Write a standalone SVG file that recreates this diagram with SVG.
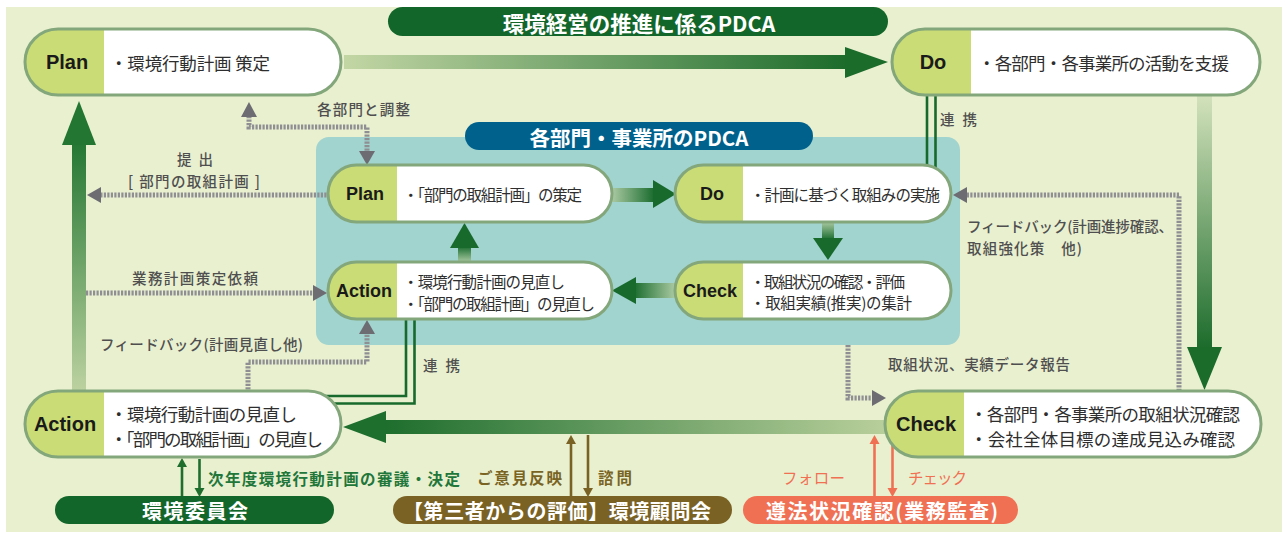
<svg xmlns="http://www.w3.org/2000/svg" width="1288" height="534" viewBox="0 0 1288 534">
<style>
.jp{font-family:"Noto Sans CJK JP","Noto Sans",sans-serif}
.lbl{font-family:"Liberation Sans","Noto Sans",sans-serif;font-weight:bold;fill:#1a1a1a;text-anchor:middle;dominant-baseline:central}
.body{font-family:"Noto Sans CJK JP",sans-serif;fill:#2e2e2e;dominant-baseline:central}
.gl{font-family:"Noto Sans CJK JP",sans-serif;fill:#4f4f4f;font-weight:500;font-size:14.5px;dominant-baseline:central}
.ttl{font-family:"Noto Sans CJK JP",sans-serif;font-weight:bold;fill:#fff;text-anchor:middle;dominant-baseline:central}
.pill{fill:#fff;stroke:none}
.edge{fill:none;stroke:#83a77b;stroke-width:3}
.sec{fill:#cadc75}
.dot{fill:none;stroke:#8e8e93;stroke-width:5;stroke-dasharray:2.2 1.3}
.gh{fill:#6c6c72}
.dk{fill:#176a2c}
.link{fill:none;stroke:#176a2c;stroke-width:2.6}
</style>
<defs>
<linearGradient id="gTop" gradientUnits="userSpaceOnUse" x1="345" y1="0" x2="850" y2="0"><stop offset="0" stop-color="#c2d6a4"/><stop offset="1" stop-color="#1b6b2b"/></linearGradient>
<linearGradient id="gLeft" gradientUnits="userSpaceOnUse" x1="0" y1="391" x2="0" y2="140"><stop offset="0" stop-color="#bcd2a0"/><stop offset="1" stop-color="#237632"/></linearGradient>
<linearGradient id="gRight" gradientUnits="userSpaceOnUse" x1="0" y1="96" x2="0" y2="350"><stop offset="0" stop-color="#d3e2bb"/><stop offset="1" stop-color="#1b6b2b"/></linearGradient>
<linearGradient id="gBot" gradientUnits="userSpaceOnUse" x1="885" y1="0" x2="385" y2="0"><stop offset="0" stop-color="#b8cf9b"/><stop offset="1" stop-color="#1e6e2e"/></linearGradient>
<linearGradient id="gIR" gradientUnits="userSpaceOnUse" x1="612" y1="0" x2="655" y2="0"><stop offset="0" stop-color="#a9c9a2"/><stop offset="1" stop-color="#176a2c"/></linearGradient>
<linearGradient id="gID" gradientUnits="userSpaceOnUse" x1="0" y1="222" x2="0" y2="240"><stop offset="0" stop-color="#a9c9a2"/><stop offset="1" stop-color="#176a2c"/></linearGradient>
<linearGradient id="gIL" gradientUnits="userSpaceOnUse" x1="675" y1="0" x2="633" y2="0"><stop offset="0" stop-color="#a9c9a2"/><stop offset="1" stop-color="#176a2c"/></linearGradient>
<linearGradient id="gIU" gradientUnits="userSpaceOnUse" x1="0" y1="262" x2="0" y2="246"><stop offset="0" stop-color="#a9c9a2"/><stop offset="1" stop-color="#176a2c"/></linearGradient>
</defs>

<rect x="6" y="7" width="1276" height="525" fill="#e9f0cf"/>

<g id="panel-inner">
<rect x="316" y="137" width="644" height="208" rx="13" fill="#a1d3cf"/>
</g>

<g id="title-main">
<rect x="388" y="7" width="500" height="29" rx="14.5" fill="#13662a"/>
<text class="ttl" x="639" y="22" font-size="21.5">環境経営の推進に係るPDCA</text>
</g>
<g id="title-inner">
<rect x="465" y="122" width="348" height="28" rx="14" fill="#00628c"/>
<text class="ttl" x="639" y="136.5" font-size="20.5">各部門・事業所のPDCA</text>
</g>

<g id="connectors">
<rect x="344" y="55" width="503" height="14" fill="url(#gTop)"/>
<polygon points="845,47 888,62 845,78" fill="#1b6b2b"/>
<rect x="72" y="143" width="14" height="250" fill="url(#gLeft)"/>
<polygon points="62,145 79,101 96,145" fill="#237632"/>
<rect x="1197" y="95" width="15" height="254" fill="url(#gRight)"/>
<polygon points="1187,347 1204.5,390 1222,347" fill="#1b6b2b"/>
<rect x="383" y="420" width="504" height="14" fill="url(#gBot)"/>
<polygon points="386,411 343,427 386,443" fill="#1e6e2e"/>
<rect x="610" y="188" width="45" height="14" fill="url(#gIR)"/>
<polygon points="653,180 676,194 653,208" class="dk"/>
<rect x="822" y="220" width="12" height="20" fill="url(#gID)"/>
<polygon points="813,238 828,260 843,238" class="dk"/>
<rect x="633" y="283" width="44" height="15" fill="url(#gIL)"/>
<polygon points="636,277 612,290.5 636,304" class="dk"/>
<rect x="458" y="246" width="13" height="18" fill="url(#gIU)"/>
<polygon points="450,248 464.5,223 479,248" class="dk"/>
<path class="link" d="M927,92 V168 M935.5,92 V168"/>
<path class="link" d="M406,316 V396 H318 M414.5,316 V403.5 H318"/>
<path class="dot" d="M249,116 V127 H367 V152"/>
<polygon class="gh" points="241,117 249,102 257,117"/>
<polygon class="gh" points="359,151 367,165 375,151"/>
<path class="dot" d="M330,195 H100"/>
<polygon class="gh" points="101,187 87,195 101,203"/>
<path class="dot" d="M86,293 H314"/>
<polygon class="gh" points="313,285 327,293 313,301"/>
<path class="dot" d="M248,393 V362 H367 V333"/>
<polygon class="gh" points="359,334 367,320 375,334"/>
<path class="dot" d="M1179,391 V195 H966"/>
<polygon class="gh" points="967,187 953,195 967,203"/>
<path class="dot" d="M848,345 V398 H873"/>
<polygon class="gh" points="872,390 886,398 872,406"/>
<g stroke-width="2.6" fill="none">
<path d="M182,496 V466" stroke="#1f6e2e"/>
<path d="M199.5,459 V489" stroke="#1f6e2e"/>
<path d="M571,496 V442" stroke="#7a6224"/>
<path d="M588,435 V489" stroke="#7a6224"/>
<path d="M874.5,496 V442" stroke="#f07053"/>
<path d="M892.5,440 V489" stroke="#f07053"/>
</g>
<polygon points="177,467 182,458 187,467" fill="#1f6e2e"/>
<polygon points="194.5,488 199.5,497 204.5,488" fill="#1f6e2e"/>
<polygon points="566,444 571,435 576,444" fill="#7a6224"/>
<polygon points="583,488 588,497 593,488" fill="#7a6224"/>
<polygon points="869.5,444 874.5,435 879.5,444" fill="#f07053"/>
<polygon points="887.5,488 892.5,497 897.5,488" fill="#f07053"/>
</g>

<g id="connector-labels">
<text class="gl" x="317" y="108" textLength="93">各部門と調整</text>
<text class="gl" x="195" y="158" text-anchor="middle" textLength="36">提 出</text>
<text class="gl" x="194" y="180" text-anchor="middle" textLength="132">[ 部門の取組計画 ]</text>
<text class="gl" x="195" y="277" text-anchor="middle" textLength="126">業務計画策定依頼</text>
<text class="gl" x="100" y="343" textLength="203">フィードバック(計画見直し他)</text>
<text class="gl" x="940" y="118" textLength="37">連 携</text>
<text class="gl" x="423" y="364" textLength="37">連 携</text>
<text class="gl" x="967" y="225" textLength="206">フィードバック(計画進捗確認、</text>
<text class="gl" x="967" y="247" textLength="115">取組強化策　他)</text>
<text class="gl" x="888" y="363" textLength="182">取組状況、実績データ報告</text>
<text class="jp" x="208" y="478" font-size="15.5" font-weight="bold" fill="#21763a" dominant-baseline="central" textLength="252">次年度環境行動計画の審議・決定</text>
<text class="jp" x="477" y="477" font-size="15.5" font-weight="bold" fill="#7a6424" dominant-baseline="central" textLength="85">ご意見反映</text>
<text class="jp" x="598" y="477" font-size="15.5" font-weight="bold" fill="#7a6424" dominant-baseline="central" textLength="34">諮問</text>
<text class="jp" x="782" y="477" font-size="15.5" fill="#f07053" dominant-baseline="central" textLength="63">フォロー</text>
<text class="jp" x="908" y="477" font-size="15.5" fill="#f07053" dominant-baseline="central" textLength="59">チェック</text>
</g>

<g id="node-plan">
<rect class="pill" x="25" y="29" width="316" height="66" rx="33"/>
<path class="sec" d="M104,29 H58 A33,33 0 0 0 58,95 H104 Z"/>
<rect class="edge" x="25" y="29" width="316" height="66" rx="33"/>
<text class="lbl" x="67" y="62" font-size="20">Plan</text>
<text class="body" x="110" y="62" font-size="17.5" textLength="160">・環境行動計画 策定</text>
</g>
<g id="node-do">
<rect class="pill" x="892" y="29" width="368" height="66" rx="33"/>
<path class="sec" d="M971,29 H925 A33,33 0 0 0 925,95 H971 Z"/>
<rect class="edge" x="892" y="29" width="368" height="66" rx="33"/>
<text class="lbl" x="933" y="62" font-size="20">Do</text>
<text class="body" x="978" y="62" font-size="17.5" textLength="251">・各部門・各事業所の活動を支援</text>
</g>
<g id="node-action">
<rect class="pill" x="25" y="391" width="316" height="66" rx="33"/>
<path class="sec" d="M104,391 H58 A33,33 0 0 0 58,457 H104 Z"/>
<rect class="edge" x="25" y="391" width="316" height="66" rx="33"/>
<text class="lbl" x="65" y="424" font-size="20">Action</text>
<text class="body" x="110" y="413" font-size="17.5" textLength="187">・環境行動計画の見直し</text>
<text class="body" x="110" y="438" font-size="17.5" textLength="213">・「部門の取組計画」の見直し</text>
</g>
<g id="node-check">
<rect class="pill" x="885" y="391" width="376" height="66" rx="33"/>
<path class="sec" d="M964,391 H918 A33,33 0 0 0 918,457 H964 Z"/>
<rect class="edge" x="885" y="391" width="376" height="66" rx="33"/>
<text class="lbl" x="926" y="424" font-size="20">Check</text>
<text class="body" x="970" y="413" font-size="17.5" textLength="270">・各部門・各事業所の取組状況確認</text>
<text class="body" x="970" y="438" font-size="17.5" textLength="265">・会社全体目標の達成見込み確認</text>
</g>

<g id="node-inner-plan">
<rect class="pill" x="328" y="165" width="284" height="57" rx="28.5"/>
<path class="sec" d="M397,165 H356.5 A28.5,28.5 0 0 0 356.5,222 H397 Z"/>
<rect class="edge" x="328" y="165" width="284" height="57" rx="28.5"/>
<text class="lbl" x="365" y="194" font-size="18">Plan</text>
<text class="body" x="403" y="194" font-size="15.5" textLength="179">・「部門の取組計画」の策定</text>
</g>
<g id="node-inner-do">
<rect class="pill" x="675" y="165" width="276" height="57" rx="28.5"/>
<path class="sec" d="M743,165 H703.5 A28.5,28.5 0 0 0 703.5,222 H743 Z"/>
<rect class="edge" x="675" y="165" width="276" height="57" rx="28.5"/>
<text class="lbl" x="712" y="194" font-size="18">Do</text>
<text class="body" x="750" y="194" font-size="15.5" textLength="190">・計画に基づく取組みの実施</text>
</g>
<g id="node-inner-action">
<rect class="pill" x="328" y="262" width="284" height="57" rx="28.5"/>
<path class="sec" d="M397,262 H356.5 A28.5,28.5 0 0 0 356.5,319 H397 Z"/>
<rect class="edge" x="328" y="262" width="284" height="57" rx="28.5"/>
<text class="lbl" x="364" y="291" font-size="18">Action</text>
<text class="body" x="403" y="281" font-size="15.5" textLength="162">・環境行動計画の見直し</text>
<text class="body" x="403" y="303" font-size="15.5" textLength="192">・「部門の取組計画」の見直し</text>
</g>
<g id="node-inner-check">
<rect class="pill" x="675" y="262" width="276" height="57" rx="28.5"/>
<path class="sec" d="M743,262 H703.5 A28.5,28.5 0 0 0 703.5,319 H743 Z"/>
<rect class="edge" x="675" y="262" width="276" height="57" rx="28.5"/>
<text class="lbl" x="710" y="291" font-size="18">Check</text>
<text class="body" x="750" y="281" font-size="15.5" textLength="155">・取組状況の確認・評価</text>
<text class="body" x="750" y="302" font-size="15.5" textLength="162">・取組実績(推実)の集計</text>
</g>

<g id="node-committee">
<rect x="55" y="496" width="279" height="28" rx="14" fill="#13662a"/>
<text class="ttl" x="195" y="510.5" font-size="20" textLength="106">環境委員会</text>
</g>
<g id="node-advisory">
<rect x="393" y="496" width="339" height="28" rx="14" fill="#7a6224"/>
<text class="ttl" x="557" y="510.5" font-size="20" textLength="308">【第三者からの評価】環境顧問会</text>
</g>
<g id="node-audit">
<rect x="743" y="496" width="275" height="28" rx="14" fill="#f07053"/>
<text class="ttl" x="882" y="510.5" font-size="20" textLength="232">遵法状況確認(業務監査)</text>
</g>
</svg>
